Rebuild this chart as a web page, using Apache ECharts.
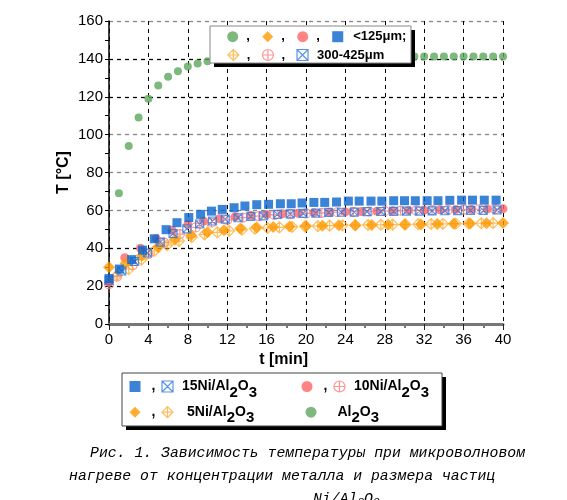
<!DOCTYPE html>
<html><head><meta charset="utf-8">
<script src="https://cdn.jsdelivr.net/npm/echarts@6/dist/echarts.min.js"></script>
<style>html,body{margin:0;padding:0;background:#fff}#c{width:567px;height:500px}</style>
</head><body><div id="c"></div>
<script>
// ---- data (t [min], T [°C]) ----
const tAl = [0,1,2,3,4,5,6,7,8,9,10,11,12,13,14,15,16,17,18,19,20,21,22,23,24,25,26,27,28,29,30,31,32,33,34,35,36,37,38,39,40];
const TAl = [22,69,94,109,119,126,130.5,133.5,136,137.5,138.8,139.3,139.7,140,140.2,140.4,140.5,140.6,140.7,140.8,140.8,140.9,140.9,141,141,141,141,141.1,141.1,141.1,141.1,141.2,141.2,141.2,141.2,141.2,141.2,141.2,141.2,141.2,141.2];

const t15s = [0,1.05,2.3,3.4,4.6,5.8,6.9,8.1,9.3,10.4,11.5,12.7,13.8,15,16.2,17.4,18.5,19.6,20.8,21.9,23.1,24.3,25.4,26.6,27.7,28.9,30,31.1,32.3,33.4,34.6,35.8,36.9,38.1,39.3];
const T15s = [24,29,34,39,45,49.8,53.5,56.2,57.9,59.6,60.5,61.4,62.3,63,63.2,63.5,63.5,63.9,64.2,64.2,64.4,64.9,64.9,64.9,64.9,65.1,65.1,65.1,65.1,65.1,65.3,65.4,65.4,65.4,65.4];

const t15l = [0,1.3,2.6,3.9,5.2,6.5,7.9,9.2,10.5,11.8,13.1,14.4,15.7,17.1,18.4,19.7,21,22.3,23.6,24.9,26.2,27.6,28.9,30.2,31.5,32.8,34.1,35.4,36.7,38,39.4];
const T15l = [23,28,33,37.5,43.2,47.7,50.2,52.8,54.4,55.4,56.1,56.8,57.1,57.9,58.1,58.4,58.6,58.9,59,59.1,59.3,59.4,59.5,59.6,59.6,59.7,59.8,59.9,60,60,60.2];

const t10s = [0,1.6,3.2,4.8,6.4,8,9.6,11.2,12.8,14.4,16,17.6,19.2,20.8,22.4,24,25.6,27.2,28.8,30.4,32,33.6,35.2,36.8,38.4,40];
const T10s = [22,35,40,45,49.5,52.5,54.3,55.6,56.6,57.3,57.8,58.2,58.5,58.8,59,59.2,59.4,59.6,59.8,60,60.1,60.3,60.4,60.5,60.7,60.8];

const t10l = [0,0.8,2.4,4,5.6,7.2,8.8,10.4,12,13.6,15.2,16.8,18.4,20,21.6,23.2,24.8,26.4,28,29.6,31.2,32.8,34.4,36,37.6,39.2];
const T10l = [21,25,31,37,43,47.5,51,53.5,55,56.2,57,57.6,58,58.4,58.7,59,59.2,59.4,59.6,59.8,60,60.1,60.3,60.4,60.6,60.7];

const t5s = [0,1.67,3.33,5,6.67,8.33,10,11.67,13.33,15,16.67,18.33,20,21.67,23.33,25,26.67,28.33,30,31.67,33.33,35,36.67,38.33,40];
const T5s = [30,32,36,40.5,44.5,46.8,48.4,49.5,50.4,50.9,51.2,51.5,51.7,51.9,52.1,52.2,52.3,52.4,52.5,52.6,52.8,53,53.1,53.2,53.3];

const t5l = [0.8,2,3.3,4.6,5.9,7.1,8.4,9.7,11,12.2,13.5,14.8,16.1,17.3,18.6,19.9,21.2,22.4,23.7,25,26.3,27.6,28.8,30.1,31.4,32.7,33.9,35.2,36.5,37.8,39];
const T5l = [25.6,29,34,38.6,41.6,43.8,45.8,47.3,48.4,49.2,49.8,50.3,50.7,51,51.3,51.5,51.7,51.9,52.1,52.2,52.3,52.4,52.5,52.6,52.7,52.8,52.9,53,53.1,53.2,53.3];

const yTickColors = ['#777','#000','#000','#888','#888','#888','#000','#000','#888'];

const captionLines = ['Рис. 1. Зависимость температуры при микроволновом', 'нагреве от концентрации металла и размера частиц'];

const N = {al:'Al2O3', s15:'15Ni <125', l15:'15Ni 300-425', s10:'10Ni <125', l10:'10Ni 300-425', s5:'5Ni <125', l5:'5Ni 300-425'};
const labelText = {
  al:'{a16|Al}{s|2}{a|O}{s|3}',
  n15:'{a4|15Ni/Al}{s|2}{a|O}{s|3}',
  n10:'{a4|10Ni/Al}{s|2}{a|O}{s|3}',
  n5:'{a9|5Ni/Al}{s|2}{a|O}{s|3}'
};
const topText = {comma:'{c13|,}', small:'{t13|<125μm;}', large:'{u13|300-425μm}'};

const zip = (a,b) => a.map((v,i)=>[v,b[i]]);

const SQX = 'path://M0,0H20V20H0Z M0,0L20,20 M20,0L0,20';
const CIRP = 'path://M10,0C15.5,0 20,4.5 20,10C20,15.5 15.5,20 10,20C4.5,20 0,15.5 0,10C0,4.5 4.5,0 10,0Z M10,0V20 M0,10H20';
const DIAP = 'path://M10,0L20,10L10,20L0,10Z M10,0V20 M0,10H20';

const C = {green:'#5ca65c', blue:'#0a64cc', blueL:'#2f78dd', red:'#ff6464', redL:'#ff7b7b', orange:'#ff9900', orangeL:'#ffad33'};

const font = 'Liberation Sans';
const monoFam = '"Liberation Mono", "Courier New", monospace';
const tb = (size, pad) => ({fontFamily:font, fontWeight:'bold', fontSize:size, color:'#000', padding:pad});
const rich = {
  a:tb(14,[6,0,6,0]), a4:tb(14,[6,0,6,4]), a9:tb(14,[6,0,6,9]), a16:tb(14,[6,0,6,16]),
  s:tb(15,[12,0,0,0]),
  c:tb(14,[0,0,0,6]),
  c13:tb(13,[0,0,0,3]), t13:tb(13,[0,0,0,5]), u13:tb(13,[0,0,0,4])
};
const legBase = {orient:'horizontal', padding:0, itemWidth:11, itemHeight:11, z:10, selectedMode:false,
  textStyle:{fontFamily:font, fontWeight:'bold', fontSize:13, color:'#000', rich:rich}};
const crossStyle = (c)=>({color:'rgba(255,255,255,0)', borderColor:c, borderWidth:1.2});
const capStyle = {fontFamily:monoFam, fontStyle:'italic', fontWeight:'normal', fontSize:14.8, color:'#000'};

const option = {
  animation:false,
  backgroundColor:'#fff',
  title:[
    {text:captionLines[0], left:90, top:446, padding:0, textStyle:capStyle},
    {text:captionLines[1], left:69, top:469, padding:0, textStyle:capStyle},
    {text:'{a|Ni/Al}{s|2}{a|O}{s|3}', left:313, top:491, padding:0,
      textStyle:Object.assign({}, capStyle, {rich:{a:Object.assign({}, capStyle), s:Object.assign({}, capStyle, {fontSize:11, padding:[6,0,0,0]})}})}
  ],
  grid:{left:109, right:64, top:21, bottom:176, containLabel:false, outerBoundsMode:'none'},
  xAxis:{type:'value', min:0, max:40, interval:4,
    name:'t [min]', nameLocation:'middle', nameGap:28, nameMoveOverlap:false,
    nameTextStyle:{fontFamily:font, fontWeight:'bold', fontSize:16, color:'#000', align:'right', padding:[0,-2,0,0]},
    axisLine:{onZero:false, lineStyle:{color:'#777', width:3}},
    axisTick:{show:true, length:6, lineStyle:{color:'#222', width:1}},
    minorTick:{show:true, splitNumber:2, length:4, lineStyle:{color:'#777', width:2}},
    axisLabel:{fontFamily:font, fontSize:15, color:'#000', margin:8},
    splitLine:{show:true, lineStyle:{color:'#000', width:1, type:[4,4]}}
  },
  yAxis:{type:'value', min:0, max:160, interval:20,
    name:'T [°C]', nameLocation:'middle', nameGap:37, nameMoveOverlap:false,
    nameTextStyle:{fontFamily:font, fontWeight:'bold', fontSize:16, color:'#000'},
    axisLine:{show:true, lineStyle:{color:'#000', width:1.5}},
    axisTick:{show:true, length:4, lineStyle:{color:'#000'}},
    minorTick:{show:true, splitNumber:2, length:4, lineStyle:{color:'#000'}},
    axisLabel:{fontFamily:font, fontSize:15, color:'#000', margin:6},
    splitLine:{show:true, lineStyle:{color:yTickColors, width:1.3, type:[4,4]}}
  },
  legend:[
    Object.assign({}, legBase, {left:227.2, top:30.2, itemGap:12.4,
      data:[N.al, N.s5, N.s10, N.s15],
      formatter:(n)=> n===N.s15 ? topText.small : topText.comma}),
    Object.assign({}, legBase, {left:227.2, top:48.5, itemGap:11.4,
      data:[{name:N.l5, itemStyle:crossStyle(C.orangeL)},{name:N.l10, itemStyle:crossStyle(C.redL)},{name:N.l15, itemStyle:crossStyle(C.blueL)}],
      formatter:(n)=> n===N.l15 ? topText.large : topText.comma}),
    Object.assign({}, legBase, {left:129.5, top:379.5, itemGap:6,
      data:[N.s15, {name:N.l15, itemStyle:crossStyle(C.blueL)}],
      formatter:(n)=> n===N.s15 ? '{c|,}' : labelText.n15}),
    Object.assign({}, legBase, {left:301.5, top:379.5, itemGap:6,
      data:[N.s10, {name:N.l10, itemStyle:crossStyle(C.redL)}],
      formatter:(n)=> n===N.s10 ? '{c|,}' : labelText.n10}),
    Object.assign({}, legBase, {left:129.5, top:405.2, itemGap:6,
      data:[N.s5, {name:N.l5, itemStyle:crossStyle(C.orangeL)}],
      formatter:(n)=> n===N.s5 ? '{c|,}' : labelText.n5}),
    Object.assign({}, legBase, {left:305.5, top:405.2, itemGap:6,
      data:[N.al],
      formatter:()=> labelText.al})
  ],
  graphic:[
    {type:'rect', z:5, shape:{x:214, y:30, width:201, height:37}, style:{fill:'#000'}},
    {type:'rect', z:6, shape:{x:210, y:26, width:201, height:37}, style:{fill:'#fff', stroke:'#888', lineWidth:1}},
    {type:'rect', z:5, shape:{x:126, y:377, width:320, height:53}, style:{fill:'#000'}},
    {type:'rect', z:6, shape:{x:122, y:373, width:320, height:53}, style:{fill:'#fff', stroke:'#444', lineWidth:1}}
  ],
  series:[
    {name:N.al, type:'scatter', symbol:'circle', symbolSize:8, itemStyle:{color:C.green}, data:zip(tAl,TAl)},
    {name:N.s10, type:'scatter', symbol:'circle', symbolSize:9, itemStyle:{color:C.red}, data:zip(t10s,T10s)},
    {name:N.l10, type:'scatter', symbol:CIRP, symbolSize:9, itemStyle:crossStyle(C.redL), data:zip(t10l,T10l)},
    {name:N.l5, type:'scatter', symbol:DIAP, symbolSize:11, itemStyle:crossStyle(C.orangeL), data:zip(t5l,T5l)},
    {name:N.s5, type:'scatter', symbol:'diamond', symbolSize:12, itemStyle:{color:C.orange}, data:zip(t5s,T5s)},
    {name:N.l15, type:'scatter', symbol:SQX, symbolSize:8, itemStyle:crossStyle(C.blueL), data:zip(t15l,T15l)},
    {name:N.s15, type:'scatter', symbol:'rect', symbolSize:9, itemStyle:{color:C.blue}, data:zip(t15s,T15s)}
  ]
};
const chart = echarts.init(document.getElementById('c'), null, {renderer:'canvas'});
chart.setOption(option);
</script></body></html>
